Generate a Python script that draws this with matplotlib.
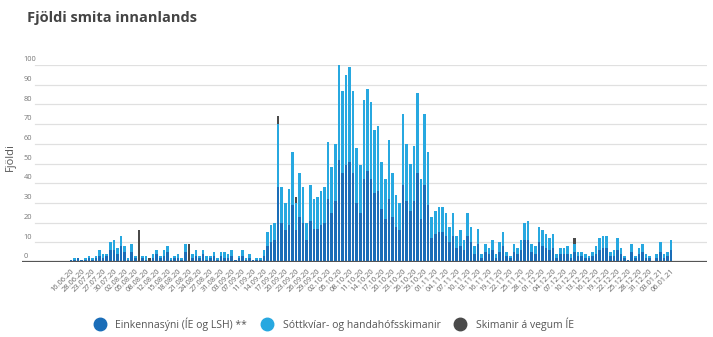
import numpy as np
import matplotlib.pyplot as plt
from matplotlib.lines import Line2D

plt.rcParams['font.family'] = ['Open Sans', 'DejaVu Sans']

# one value per reported day, read (and split by estimate) from the chart
einkenna = [1, 1, 2, 1, 1, 2, 1, 2, 3, 2, 3, 6, 6, 4, 8, 5, 1, 5, 2, 0,
            2, 1, 0, 2, 4, 2, 3, 5, 1, 2, 2, 1, 5, 0, 2, 3, 2, 4, 1, 2,
            3, 1, 3, 2, 2, 3, 1, 2, 3, 1, 2,
            1, 1, 1, 3, 8, 10, 11, 38, 20, 16, 19, 29, 16, 23, 20, 11, 21, 17, 17, 19,
            20, 32, 25, 31, 52, 45, 49, 51, 45, 30, 25, 42, 46, 42, 35, 36, 27, 22, 32, 23,
            18, 16, 39, 31, 26, 31, 45, 22, 39, 29, 12, 14, 15, 15, 13, 10, 13, 7, 8, 6,
            13, 10, 4, 9, 2, 5, 4,
            6, 2, 5, 8, 3, 2, 5, 4, 6, 11, 11, 5, 4, 10, 8, 7, 6, 7, 2, 4,
            4, 4, 2, 5, 3, 3, 2, 2, 3, 4, 6, 7, 7, 3, 3, 6, 4, 2, 1, 5,
            2, 4, 5, 2, 2, 0, 2, 5, 2, 3, 6]
sottkvi = [0, 1, 0, 0, 1, 1, 1, 1, 3, 2, 1, 4, 5, 3, 5, 3, 1, 4, 1, 0,
           1, 2, 0, 2, 2, 1, 3, 3, 1, 1, 2, 1, 4, 0, 2, 3, 1, 2, 2, 1,
           2, 1, 2, 3, 2, 3, 0, 1, 3, 1, 2,
           0, 1, 1, 3, 7, 9, 9, 32, 18, 14, 18, 27, 14, 22, 18, 9, 18, 15, 16, 17,
           18, 29, 23, 29, 48, 42, 46, 48, 42, 28, 24, 40, 42, 39, 32, 33, 24, 20, 30, 22,
           16, 14, 36, 29, 24, 28, 41, 20, 36, 27, 11, 12, 13, 13, 12, 8, 12, 6, 8, 5,
           12, 8, 4, 8, 2, 4, 3,
           5, 2, 5, 7, 2, 1, 4, 3, 5, 9, 10, 4, 4, 8, 8, 7, 6, 7, 2, 3,
           3, 4, 2, 4, 2, 2, 2, 1, 2, 4, 6, 6, 6, 2, 3, 6, 3, 1, 0, 4,
           1, 3, 4, 2, 1, 0, 2, 5, 2, 2, 5]
ie = [0, 0, 0, 0, 0, 0, 0, 0, 0, 0, 0, 0, 0, 0, 0, 0, 0, 0, 0, 16,
      0, 0, 2, 0, 0, 0, 0, 0, 0, 0, 0, 0, 0, 9, 0, 0, 0, 0, 0, 0,
      0, 0, 0, 0, 0, 0, 0, 0, 0, 0, 0,
      0, 0, 0, 0, 0, 0, 0, 4, 0, 0, 0, 0, 3, 0, 0, 0, 0, 0, 0, 0,
      0, 0, 0, 0, 0, 0, 0, 0, 0, 0, 0, 0, 0, 0, 0, 0, 0, 0, 0, 0,
      0, 0, 0, 0, 0, 0, 0, 0, 0, 0, 0, 0, 0, 0, 0, 0, 0, 0, 0, 0,
      0, 0, 0, 0, 0, 0, 0,
      0, 0, 0, 0, 0, 0, 0, 0, 0, 0, 0, 0, 0, 0, 0, 0, 0, 0, 0, 0,
      0, 0, 0, 3, 0, 0, 0, 0, 0, 0, 0, 0, 0, 0, 0, 0, 0, 0, 0, 0,
      0, 0, 0, 0, 0, 0, 0, 0, 0, 0, 0]

tick_labels = ['16.06.20', '28.06.20', '23.07.20', '27.07.20', '30.07.20', '02.08.20',
               '05.08.20', '08.08.20', '12.08.20', '15.08.20', '18.08.20', '21.08.20',
               '24.08.20', '27.08.20', '31.08.20', '03.09.20', '07.09.20', '11.09.20',
               '14.09.20', '17.09.20', '20.09.20', '23.09.20', '26.09.20', '29.09.20',
               '02.10.20', '05.10.20', '08.10.20', '11.10.20', '14.10.20', '17.10.20',
               '20.10.20', '23.10.20', '26.10.20', '29.10.20', '01.11.20', '04.11.20',
               '07.11.20', '10.11.20', '13.11.20', '16.11.20', '19.11.20', '22.11.20',
               '25.11.20', '28.11.20', '01.12.20', '04.12.20', '07.12.20', '10.12.20',
               '13.12.20', '16.12.20', '19.12.20', '22.12.20', '25.12.20', '28.12.20',
               '31.12.20', '03.01.21', '06.01.21']

c_eink = '#1a6db8'
c_sott = '#27a8e0'
c_ie = '#4a4a4a'

e = np.array(einkenna)
s = np.array(sottkvi)
g = np.array(ie)
x = np.arange(len(e))

fig = plt.figure(figsize=(7.13, 3.37), dpi=100)
ax = fig.add_axes([22/713, 75/337, 685/713, 197/337])

for v in range(10, 101, 10):
    ax.axhline(v, xmin=0.019, xmax=1, color='#e0e0e0', lw=0.9, zorder=0)
for v in range(0, 101, 10):
    ax.text(0.002, v + 0.9, str(v), transform=ax.get_yaxis_transform(),
            fontsize=5.4, color='#777777', ha='left', va='bottom')

ax.bar(x, e, width=0.72, color=c_eink, zorder=2)
ax.bar(x, s, bottom=e, width=0.72, color=c_sott, zorder=2)
ax.bar(x, g, bottom=e+s, width=0.72, color=c_ie, zorder=2)

ax.axhline(0, color='#555555', lw=1.6, zorder=3)

ax.set_xlim(-13.7, 178.1)
ax.set_ylim(0, 100)
for sp in ax.spines.values():
    sp.set_visible(False)
ax.set_yticks([])
ax.set_xticks(x[::3])
ax.set_xticklabels(tick_labels, rotation=45, ha='right', va='top',
                   rotation_mode='anchor', fontsize=5.4, color='#666666')
ax.tick_params(axis='x', length=0, pad=4)

fig.text(27/713, 1 - 18/337, 'Fjöldi smita innanlands', fontsize=10.5,
         fontweight='bold', color='#444444', va='center', ha='left')
fig.text(10/713, 1 - 157/337, 'Fjöldi', fontsize=8, color='#555555',
         rotation=90, va='center', ha='center')

handles = [Line2D([], [], marker='o', ls='', markersize=9, color=c)
           for c in (c_eink, c_sott, c_ie)]
names = ['Einkennasýni (ÍE og LSH) **', 'Sóttkvíar- og handahófsskimanir',
         'Skimanir á vegum ÍE']
leg = fig.legend(handles, names, loc='center', bbox_to_anchor=(0.465, 1 - 324/337),
                 ncol=3, frameon=False, fontsize=7.5, handletextpad=0.5,
                 columnspacing=0.9)
for t in leg.get_texts():
    t.set_color('#555555')

fig.savefig('out.png', dpi=100)
